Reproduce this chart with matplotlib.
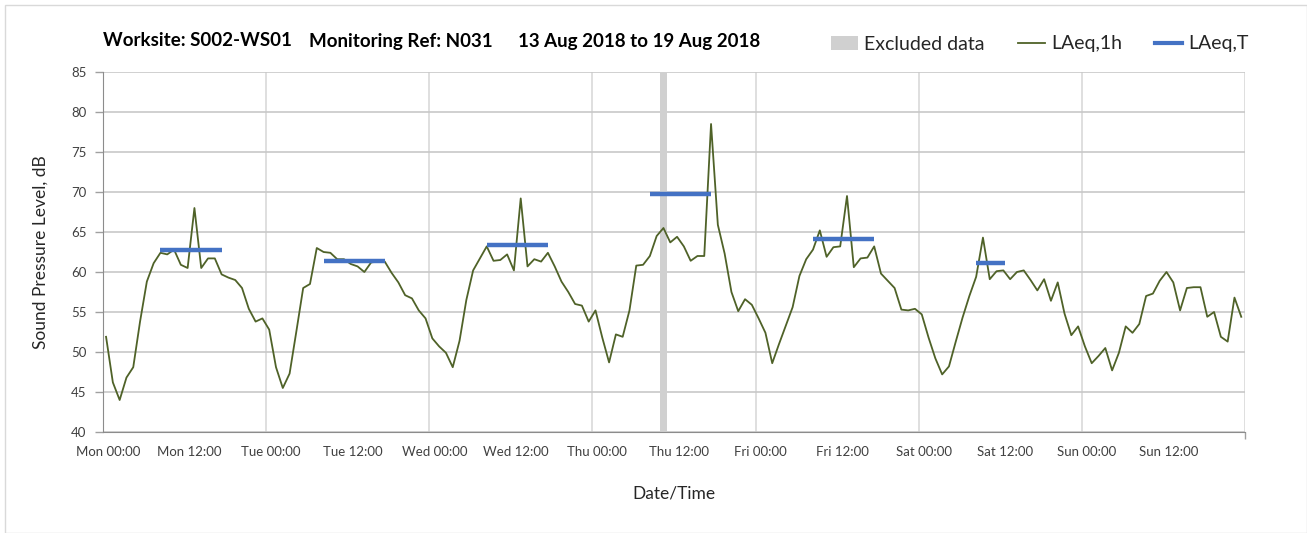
import matplotlib.pyplot as plt
import matplotlib.transforms as mtransforms
from matplotlib.lines import Line2D
from matplotlib.patches import Patch, Rectangle
import numpy as np

# hourly LAeq,1h values, Mon 00:00 .. Sun 23:00
laeq_1h = [
    51.9, 46.2, 44.0, 46.8, 48.1, 53.8, 58.8, 61.1, 62.4, 62.2, 62.8, 60.9,
    60.5, 68.0, 60.5, 61.7, 61.7, 59.7, 59.3, 59.0, 58.0, 55.4, 53.8, 54.2,
    52.8, 48.1, 45.5, 47.3, 52.6, 58.0, 58.5, 63.0, 62.5, 62.4, 61.6, 61.6,
    61.0, 60.7, 60.0, 61.2, 61.3, 61.3, 59.9, 58.7, 57.1, 56.7, 55.2, 54.2,
    51.7, 50.7, 49.9, 48.1, 51.4, 56.5, 60.2, 61.7, 63.2, 61.4, 61.5, 62.2,
    60.2, 69.2, 60.7, 61.6, 61.3, 62.4, 60.7, 58.8, 57.5, 56.0, 55.8, 53.8,
    55.2, 51.8, 48.7, 52.2, 51.9, 55.2, 60.8, 60.9, 62.0, 64.5, 65.5, 63.7,
    64.4, 63.2, 61.4, 62.0, 62.0, 78.5, 65.9, 62.3, 57.5, 55.1, 56.6, 55.9,
    54.2, 52.4, 48.6, 51.0, 53.3, 55.6, 59.5, 61.6, 62.8, 65.2, 61.9, 63.1,
    63.2, 69.5, 60.6, 61.7, 61.8, 63.2, 59.8, 58.9, 58.0, 55.3, 55.2, 55.4,
    54.7, 51.8, 49.2, 47.2, 48.2, 51.3, 54.3, 57.0, 59.4, 64.3, 59.1, 60.1,
    60.2, 59.1, 60.0, 60.2, 59.0, 57.7, 59.1, 56.4, 58.7, 54.8, 52.1, 53.2,
    50.7, 48.6, 49.5, 50.5, 47.7, 49.9, 53.2, 52.4, 53.5, 57.0, 57.3, 58.9,
    60.0, 58.7, 55.2, 58.0, 58.1, 58.1, 54.4, 55.0, 51.9, 51.3, 56.8, 54.4,
]

# LAeq,T periods: start hour, end hour (from Mon 00:00), level
period_start = [8, 32, 56, 80, 104, 128]
period_end = [17, 41, 65, 89, 113, 132.3]
period_level = [62.8, 61.4, 63.4, 69.8, 64.1, 61.1]

# excluded data window (hours from Mon 00:00)
excluded_start = 82
excluded_end = 83

days = ["Mon", "Tue", "Wed", "Thu", "Fri", "Sat", "Sun"]
tick_labels = [f"{d} {h}" for d in days for h in ["00:00", "12:00"]]

green = "#4f6228"
blue = "#4472c4"
grey_band = "#d0d0d0"
font = "Lato"

plt.rcParams["font.family"] = [font, "DejaVu Sans"]

fig = plt.figure(figsize=(13.07, 5.33), dpi=100)
ax = fig.add_axes([103 / 1307, 1 - 432 / 533, (1245 - 103) / 1307, (432 - 72) / 533])

offset = 0.45
hours = np.arange(len(laeq_1h)) + offset

ax.axvspan(excluded_start, excluded_end, color=grey_band, lw=0, zorder=1)
ax.plot(hours, laeq_1h, color=green, lw=1.3, zorder=3)
for s, e, v in zip(period_start, period_end, period_level):
    ax.plot([s + offset, e + offset], [v, v], color=blue, lw=3.2,
            solid_capstyle="butt", zorder=4)

ax.set_xlim(0, 168)
ax.set_ylim(40, 85)
ax.set_yticks(np.arange(40, 86, 5))
ax.set_xticks(np.arange(0, 168, 12))
ax.set_xticklabels(tick_labels)
ax.set_xticks(np.arange(0, 169, 12), minor=True)
ax.tick_params(axis="x", which="major", length=0, pad=10, labelsize=9.5, colors="#404040")
ax.tick_params(axis="x", which="minor", length=5, width=1, color="#a0a0a0", direction="out")
ax.tick_params(axis="y", length=6, width=1, color="#a0a0a0", pad=6, labelsize=9.5,
               labelcolor="#404040")

# small right shift of x tick labels as in the original
shift = mtransforms.ScaledTranslation(5 / 100, 0, fig.dpi_scale_trans)
for lab in ax.get_xticklabels():
    lab.set_transform(lab.get_transform() + shift)

ax.grid(axis="y", color="#c8c8c8", lw=1.2, zorder=0)
for x in range(24, 169, 24):
    ax.axvline(x, color="#d9d9d9", lw=1.2, zorder=0)
ax.set_axisbelow(True)
for side in ["top", "right"]:
    ax.spines[side].set_visible(False)
ax.spines["left"].set_color("#8c8c8c")
ax.spines["bottom"].set_color("#8c8c8c")

ax.set_ylabel("Sound Pressure Level, dB", fontsize=12.5, color="#262626", labelpad=16)
ax.set_xlabel("Date/Time", fontsize=12.5, color="#262626", labelpad=20)

# title
ty = 1 - 41 / 533
fig.text(103 / 1307, ty, "Worksite: S002-WS01", fontsize=13.5, fontweight="bold", va="center")
fig.text(309 / 1307, ty, "Monitoring Ref: N031", fontsize=13.5, fontweight="bold", va="center")
fig.text(518 / 1307, ty, "13 Aug 2018 to 19 Aug 2018", fontsize=13.5, fontweight="bold", va="center")

handles = [
    Patch(facecolor=grey_band, edgecolor="none"),
    Line2D([], [], color=green, lw=1.3),
    Line2D([], [], color=blue, lw=3),
]
fig.legend(handles, ["Excluded data", "LAeq,1h", "LAeq,T"], ncol=3, frameon=False,
           loc="center right", bbox_to_anchor=(1262 / 1307, 1 - 44 / 533), fontsize=14,
           handlelength=1.4, handletextpad=0.3, columnspacing=1.7,
           labelcolor="#262626", borderpad=0.2)

# outer chart border
fig.patches.append(Rectangle((5 / 1307, 0), 1 - 5 / 1307, 1 - 5 / 533,
                             transform=fig.transFigure, fill=False,
                             edgecolor="#d9d9d9", lw=1))

fig.savefig("out.png", dpi=100)
